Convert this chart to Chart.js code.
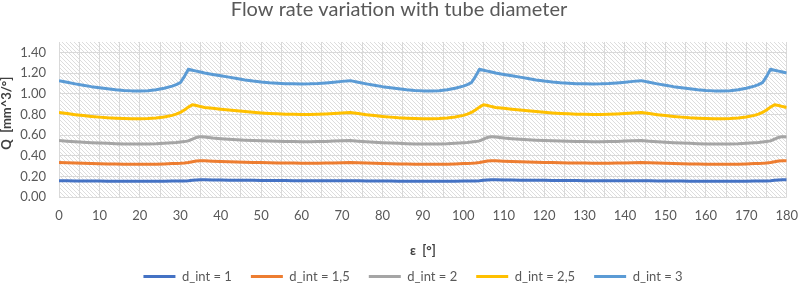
<!DOCTYPE html>
<html>
<head>
<meta charset="utf-8">
<title>Flow rate variation with tube diameter</title>
<script src="https://cdn.jsdelivr.net/npm/chart.js@4.4.1/dist/chart.umd.min.js"></script>
<style>
    html, body { margin: 0; padding: 0; background: #ffffff; overflow: hidden; }
    #graphCanvas { display: block; }
</style>
</head>
<body>
<canvas id="graphCanvas" width="809" height="293"></canvas>
<script>
// angle epsilon [deg] - every 2 deg, every 1 deg around the peaks
let eps = [0, 2, 4, 6, 8, 10, 12, 14, 16, 18, 20, 22, 24, 26, 28,
    29, 30, 31, 32, 33, 34, 35, 36,
    38, 40, 42, 44, 46, 48, 50, 52, 54, 56, 58, 60, 62, 64, 66, 68, 70,
    72, 74, 76, 78, 80, 82, 84, 86, 88, 90, 92, 94, 96, 98, 100,
    101, 102, 103, 104, 105, 106, 107, 108,
    110, 112, 114, 116, 118, 120, 122, 124, 126, 128, 130, 132, 134, 136, 138, 140, 142,
    144, 146, 148, 150, 152, 154, 156, 158, 160, 162, 164, 166, 168, 170, 172,
    173, 174, 175, 176, 177, 178, 179, 180];

// flow rate Q [mm^3/deg] for each internal diameter
let q1 = [0.158, 0.157, 0.156, 0.155, 0.154, 0.154, 0.153, 0.153, 0.152, 0.152, 0.152, 0.152, 0.152, 0.153, 0.154,
    0.154, 0.155, 0.156, 0.158, 0.161, 0.164, 0.166, 0.166,
    0.165, 0.164, 0.163, 0.162, 0.161, 0.161, 0.160, 0.160, 0.159, 0.159, 0.158, 0.158, 0.158, 0.158, 0.158, 0.158, 0.158,
    0.158, 0.157, 0.156, 0.155, 0.154, 0.154, 0.153, 0.153, 0.152, 0.152, 0.152, 0.152, 0.152, 0.153, 0.154,
    0.154, 0.155, 0.156, 0.158, 0.161, 0.164, 0.166, 0.166,
    0.165, 0.164, 0.163, 0.162, 0.161, 0.161, 0.160, 0.160, 0.159, 0.159, 0.158, 0.158, 0.158, 0.158, 0.158, 0.158, 0.158,
    0.158, 0.157, 0.156, 0.155, 0.154, 0.154, 0.153, 0.153, 0.152, 0.152, 0.152, 0.152, 0.152, 0.153, 0.154,
    0.154, 0.155, 0.156, 0.158, 0.161, 0.164, 0.166, 0.166];

let q15 = [0.335, 0.332, 0.329, 0.326, 0.324, 0.322, 0.320, 0.319, 0.318, 0.317, 0.317, 0.317, 0.318, 0.320, 0.323,
    0.325, 0.327, 0.330, 0.334, 0.341, 0.348, 0.351, 0.350,
    0.346, 0.343, 0.341, 0.339, 0.337, 0.335, 0.333, 0.331, 0.330, 0.329, 0.328, 0.327, 0.327, 0.327, 0.328, 0.330, 0.332,
    0.335, 0.332, 0.329, 0.326, 0.324, 0.322, 0.320, 0.319, 0.318, 0.317, 0.317, 0.317, 0.318, 0.320, 0.323,
    0.325, 0.327, 0.330, 0.334, 0.341, 0.348, 0.351, 0.350,
    0.346, 0.343, 0.341, 0.339, 0.337, 0.335, 0.333, 0.331, 0.330, 0.329, 0.328, 0.327, 0.327, 0.327, 0.328, 0.330, 0.332,
    0.335, 0.332, 0.329, 0.326, 0.324, 0.322, 0.320, 0.319, 0.318, 0.317, 0.317, 0.317, 0.318, 0.320, 0.323,
    0.325, 0.327, 0.330, 0.334, 0.341, 0.348, 0.351, 0.350];

let q2 = [0.546, 0.540, 0.535, 0.530, 0.526, 0.522, 0.519, 0.516, 0.514, 0.513, 0.513, 0.514, 0.516, 0.520, 0.525,
    0.528, 0.532, 0.536, 0.543, 0.560, 0.576, 0.584, 0.580,
    0.570, 0.564, 0.559, 0.554, 0.550, 0.547, 0.544, 0.541, 0.539, 0.537, 0.536, 0.535, 0.535, 0.536, 0.538, 0.541, 0.544,
    0.546, 0.540, 0.535, 0.530, 0.526, 0.522, 0.519, 0.516, 0.514, 0.513, 0.513, 0.514, 0.516, 0.520, 0.525,
    0.528, 0.532, 0.536, 0.543, 0.560, 0.576, 0.584, 0.580,
    0.570, 0.564, 0.559, 0.554, 0.550, 0.547, 0.544, 0.541, 0.539, 0.537, 0.536, 0.535, 0.535, 0.536, 0.538, 0.541, 0.544,
    0.546, 0.540, 0.535, 0.530, 0.526, 0.522, 0.519, 0.516, 0.514, 0.513, 0.513, 0.514, 0.516, 0.520, 0.525,
    0.528, 0.532, 0.536, 0.543, 0.560, 0.576, 0.584, 0.580];

let q25 = [0.818, 0.807, 0.797, 0.788, 0.780, 0.773, 0.767, 0.763, 0.760, 0.758, 0.758, 0.760, 0.765, 0.774, 0.790,
    0.802, 0.818, 0.842, 0.870, 0.893, 0.886, 0.875, 0.866,
    0.858, 0.850, 0.842, 0.834, 0.827, 0.820, 0.814, 0.809, 0.805, 0.802, 0.800, 0.799, 0.799, 0.801, 0.804, 0.808, 0.813,
    0.818, 0.807, 0.797, 0.788, 0.780, 0.773, 0.767, 0.763, 0.760, 0.758, 0.758, 0.760, 0.765, 0.774, 0.790,
    0.802, 0.818, 0.842, 0.870, 0.893, 0.886, 0.875, 0.866,
    0.858, 0.850, 0.842, 0.834, 0.827, 0.820, 0.814, 0.809, 0.805, 0.802, 0.800, 0.799, 0.799, 0.801, 0.804, 0.808, 0.813,
    0.818, 0.807, 0.797, 0.788, 0.780, 0.773, 0.767, 0.763, 0.760, 0.758, 0.758, 0.760, 0.765, 0.774, 0.790,
    0.802, 0.818, 0.842, 0.870, 0.893, 0.886, 0.875, 0.866];

let q3 = [1.126, 1.110, 1.095, 1.081, 1.068, 1.057, 1.047, 1.038, 1.031, 1.027, 1.026, 1.029, 1.038, 1.053, 1.073,
    1.087, 1.106, 1.165, 1.236, 1.227, 1.218, 1.209, 1.200,
    1.186, 1.173, 1.160, 1.146, 1.133, 1.122, 1.113, 1.106, 1.101, 1.097, 1.095, 1.094, 1.095, 1.098, 1.104, 1.111, 1.119,
    1.126, 1.110, 1.095, 1.081, 1.068, 1.057, 1.047, 1.038, 1.031, 1.027, 1.026, 1.029, 1.038, 1.053, 1.073,
    1.087, 1.106, 1.165, 1.236, 1.227, 1.218, 1.209, 1.200,
    1.186, 1.173, 1.160, 1.146, 1.133, 1.122, 1.113, 1.106, 1.101, 1.097, 1.095, 1.094, 1.095, 1.098, 1.104, 1.111, 1.119,
    1.126, 1.110, 1.095, 1.081, 1.068, 1.057, 1.047, 1.038, 1.031, 1.027, 1.026, 1.029, 1.038, 1.053, 1.073,
    1.087, 1.106, 1.165, 1.236, 1.227, 1.218, 1.209, 1.200];

let seriesNames = ['d_int = 1', 'd_int = 1,5', 'd_int = 2', 'd_int = 2,5', 'd_int = 3'];
let seriesValues = [q1, q15, q2, q25, q3];
let seriesColors = ['#4472C4', '#ED7D31', '#A5A5A5', '#FFC000', '#5B9BD5'];

let yTicks = [0, 0.2, 0.4, 0.6, 0.8, 1.0, 1.2, 1.4]; // axis itself runs to 1.5

// light downward diagonal fill of the plot area
let hatchPlugin = {
    id: 'hatch',
    afterLayout: function(chart) {
        // legend row sits a bit right of the canvas centre
        chart.legend.left += 14;
        chart.legend.right += 14;
    },
    beforeDraw: function(chart) {
        let ctx = chart.ctx;
        let a = chart.chartArea;
        let tile = document.createElement('canvas');
        tile.width = 4;
        tile.height = 4;
        let g = tile.getContext('2d');
        g.fillStyle = '#ffffff';
        g.fillRect(0, 0, 4, 4);
        g.fillStyle = '#dddddd';
        for (let i = 0; i < 4; i++) {
            g.fillRect(i, i, 1, 1);
        }
        ctx.save();
        ctx.fillStyle = ctx.createPattern(tile, 'repeat');
        ctx.fillRect(a.left, a.top, a.right - a.left, a.bottom - a.top);
        ctx.restore();
    }
};

function buildDatasets() {
    let datasets = [];
    for (let s = 0; s < seriesNames.length; s++) {
        datasets.push({
            label: seriesNames[s],
            data: eps.map((e, i) => ({ x: e, y: seriesValues[s][i] })),
            borderColor: seriesColors[s],
            backgroundColor: seriesColors[s],
            borderWidth: 3,
            pointRadius: 0,
            tension: 0,
            borderJoinStyle: 'round'
        });
    }
    return datasets;
}

let font = 'Lato, "Open Sans", sans-serif';
let graphCanvas = document.getElementById('graphCanvas').getContext('2d');
let lineChart = new Chart(graphCanvas, {
    type: 'line',
    data: { datasets: buildDatasets() },
    plugins: [hatchPlugin],
    options: {
        responsive: false,
        animation: false,
        devicePixelRatio: 1,
        layout: { padding: { left: 0, right: 11, top: 0, bottom: 0 } },
        plugins: {
            title: {
                display: true,
                text: 'Flow rate variation with tube diameter',
                color: '#595959',
                font: { family: font, size: 20, weight: 'normal' },
                padding: { top: -2, bottom: 20 }
            },
            legend: {
                position: 'bottom',
                labels: {
                    color: '#595959',
                    font: { family: font, size: 13 },
                    boxWidth: 32,
                    boxHeight: 3,
                    padding: 19,
                    generateLabels: function(chart) {
                        let items = Chart.defaults.plugins.legend.labels.generateLabels(chart);
                        items.forEach(it => { it.lineWidth = 0; });
                        return items;
                    }
                }
            },
            tooltip: { enabled: false }
        },
        scales: {
            x: {
                type: 'linear',
                min: 0,
                max: 180,
                afterFit: function(scale) { scale.height = 54; },
                grid: { color: '#d9d9d9', lineWidth: 1, drawTicks: false },
                border: { display: false },
                ticks: {
                    stepSize: 5,
                    autoSkip: false,
                    maxRotation: 0,
                    padding: 11,
                    color: '#595959',
                    font: { family: font, size: 13 },
                    callback: function(value) { return value % 10 === 0 ? String(value) : ''; }
                },
                title: {
                    display: true,
                    text: 'ε  [°]',
                    color: '#404040',
                    font: { family: font, size: 13, weight: 'bold', lineHeight: 1 },
                    padding: { top: 0, bottom: -6.5 }
                }
            },
            y: {
                min: 0,
                max: 1.5,
                afterFit: function(scale) { scale.width = 59; },
                afterBuildTicks: function(scale) {
                    scale.ticks = yTicks.map(v => ({ value: v }));
                },
                grid: { color: '#d9d9d9', lineWidth: 1, drawTicks: false },
                border: { display: false },
                ticks: {
                    padding: 13,
                    color: '#595959',
                    font: { family: font, size: 13 },
                    callback: function(value) { return value.toFixed(2); }
                },
                title: {
                    display: true,
                    text: '    Q  [mm^3/°]',
                    color: '#404040',
                    font: { family: font, size: 13, weight: 'bold', lineHeight: 1 },
                    padding: { top: 0, bottom: 0 }
                }
            }
        }
    }
});
</script>
</body>
</html>
